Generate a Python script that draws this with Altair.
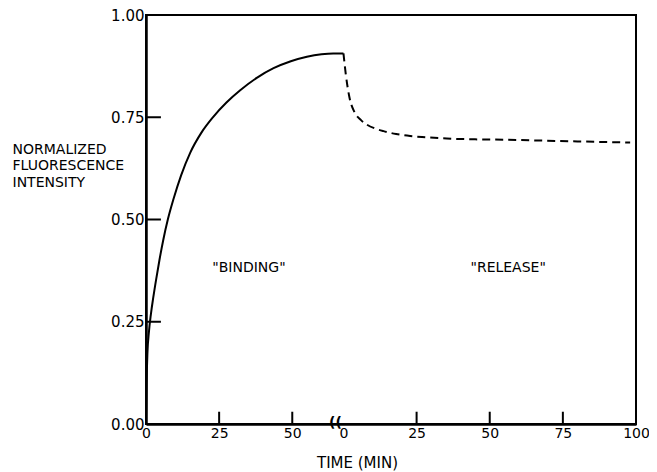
import altair as alt
import pandas as pd

# ---- data ----
BREAK = 67.5  # length of the binding phase (min); release time axis restarts here

binding_t = [0, 0.2, 0.5, 1.0, 1.7, 2.5, 3.5, 4.6, 5.9, 7.5, 9.4, 12.0, 15.1, 19.0,
             23.0, 27.5, 32.2, 38.0, 43.6, 49.5, 55.0, 60.0, 64.0, 67.5]
binding_v = [0.0, 0.10, 0.175, 0.225, 0.27, 0.31, 0.355, 0.401, 0.45, 0.501, 0.55,
             0.608, 0.663, 0.713, 0.751, 0.786, 0.816, 0.847, 0.870, 0.887, 0.898,
             0.904, 0.906, 0.906]

release_t = [0, 0.8, 2.0, 3.8, 6.0, 8.0, 11.0, 13.7, 18.0, 22.8, 28.0, 35.3, 45.0,
             55.0, 67.2, 80.0, 98.0]
release_v = [0.906, 0.855, 0.80, 0.762, 0.743, 0.732, 0.722, 0.716, 0.709, 0.704, 0.701,
             0.698, 0.696, 0.695, 0.693, 0.691, 0.688]

x_label_values = [0, 25, 50, 67.5, 92.5, 117.5, 142.5, 167.5]
x_tick_marks = [25, 50, 92.5, 117.5, 142.5]
y_label_values = [0, 0.25, 0.5, 0.75, 1.0]
y_tick_marks = [0.25, 0.5, 0.75]

annot_label = ['"BINDING"', '"RELEASE"']
annot_x = [35.2, BREAK + 56.3]
annot_y = [0.381, 0.381]

FONT = "DejaVu Sans"

# ---- tables ----
bind_df = pd.DataFrame({"x": binding_t, "y": binding_v})
rel_df = pd.DataFrame({"x": [BREAK + t for t in release_t], "y": release_v})
xt_df = pd.DataFrame({"x": x_tick_marks, "y": [0.0] * len(x_tick_marks),
                      "y2": [0.03] * len(x_tick_marks)})
yt_df = pd.DataFrame({"y": y_tick_marks, "x": [0.0] * len(y_tick_marks),
                      "x2": [5.1] * len(y_tick_marks)})
ann_df = pd.DataFrame({"x": annot_x, "y": annot_y, "label": annot_label})
brk_df = pd.DataFrame({"x": [BREAK], "y": [0.0], "label": ["(("]})

xscale = alt.Scale(domain=[0, BREAK + 100], nice=False, zero=False)
yscale = alt.Scale(domain=[0, 1], nice=False)

xaxis = alt.Axis(
    values=x_label_values,
    labelExpr=f"datum.value >= {BREAK} ? format(datum.value - {BREAK}, 'd') : format(datum.value, 'd')",
    ticks=False, grid=False, domainColor="black", domainWidth=2.5,
    labelFont=FONT, labelFontSize=14, labelColor="black", labelPadding=2,
    labelFlush=False, labelOverlap=False,
    title="TIME  (MIN)", titleFont=FONT, titleFontSize=15, titleFontWeight="normal",
    titleColor="black", titleX=211, titleY=38, titleBaseline="middle", titleAnchor="start",
    titleAlign="center",
)
yaxis = alt.Axis(
    values=y_label_values, format=".2f",
    ticks=False, grid=False, domainColor="black", domainWidth=2.5,
    labelFont=FONT, labelFontSize=15, labelColor="black", labelPadding=2,
    labelFlush=False, labelOverlap=False,
    title=["NORMALIZED", "FLUORESCENCE", "INTENSITY"], titleFont=FONT, titleFontSize=14,
    titleFontWeight="normal", titleColor="black", titleAngle=0, titleAlign="left",
    titleBaseline="top", titleX=-134, titleY=127, titleLineHeight=16.5,
)


def X():
    return alt.X("x:Q", scale=xscale, axis=xaxis)


def Y():
    return alt.Y("y:Q", scale=yscale, axis=yaxis)


binding = alt.Chart(bind_df).mark_line(color="black", strokeWidth=2, interpolate="monotone").encode(x=X(), y=Y())
release = alt.Chart(rel_df).mark_line(color="black", strokeWidth=2, strokeDash=[8, 5],
                                      interpolate="monotone").encode(x=X(), y=Y())
xticks = alt.Chart(xt_df).mark_rule(color="black", strokeWidth=2).encode(x=X(), y=Y(), y2="y2:Q")
yticks = alt.Chart(yt_df).mark_rule(color="black", strokeWidth=2).encode(x=X(), x2="x2:Q", y=Y())
texts = alt.Chart(ann_df).mark_text(font=FONT, fontSize=14, color="black").encode(
    x=X(), y=Y(), text="label:N")
brk = alt.Chart(brk_df).mark_text(font=FONT, fontSize=14, fontWeight="bold", color="black",
                                  dx=-8, dy=-1, baseline="middle").encode(x=X(), y=Y(), text="label:N")

chart = alt.layer(binding, release, xticks, yticks, texts, brk).properties(
    width=490, height=409,
    autosize=alt.AutoSizeParams(type="none"),
    padding={"left": 138, "top": 7, "right": 13, "bottom": 48},
    background="white",
).configure_view(stroke="black", strokeWidth=2)

chart.save("out.html", embed_options={"renderer": "svg", "actions": False})
